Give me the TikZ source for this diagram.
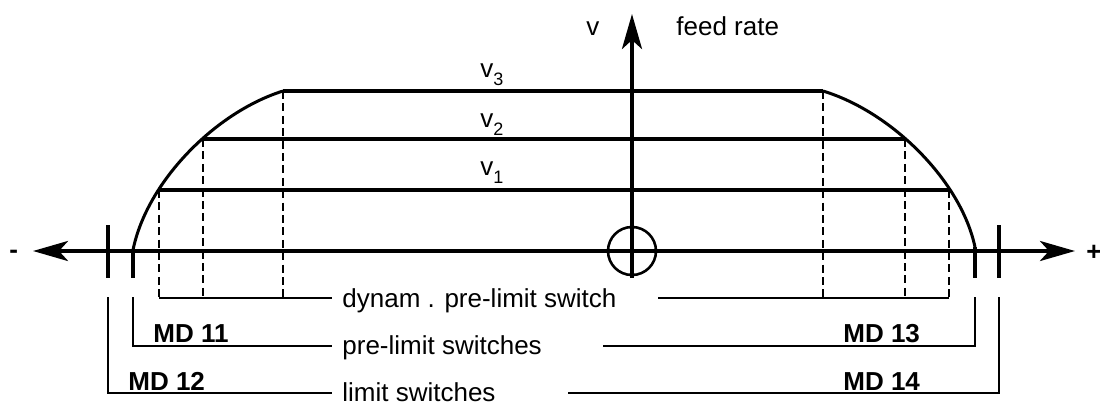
\documentclass[tikz,border=0pt]{standalone}
\usepackage{fontspec}
\setmainfont{Liberation Sans}
\usetikzlibrary{arrows.meta}
\newcommand\subidx[1]{\raisebox{-4pt}{\fontsize{9pt}{10pt}\selectfont #1}}
\begin{document}
\begin{tikzpicture}[x=0.5pt,y=-0.5pt,
  >={Stealth[length=17.5pt,width=10pt,inset=4.5pt]},
  axis/.style={line width=2pt},
  level/.style={line width=2pt},
  curve/.style={line width=1.5pt},
  dim/.style={line width=0.7pt},
  guide/.style={line width=0.7pt, dash pattern=on 4pt off 2.2pt},
  tickbar/.style={line width=2.4pt},
  lbl/.style={font=\fontsize{13pt}{15pt}\selectfont, inner sep=0pt, anchor=base west},
  md/.style={font=\fontsize{13pt}{15pt}\selectfont\bfseries, inner sep=0pt, anchor=base west}
]
\useasboundingbox (0,0) rectangle (1100,404);

% curve points
\coordinate (L0) at (133,250);
\coordinate (L1) at (159,190);
\coordinate (L2) at (203,139);
\coordinate (L3) at (283,91);
\coordinate (R0) at (975,247);
\coordinate (R1) at (949,190);
\coordinate (R2) at (905,139);
\coordinate (R3) at (823,91);

% guide feet
\coordinate (DL1) at (159,298);
\coordinate (DL2) at (203,298);
\coordinate (DL3) at (283,298);
\coordinate (DR1) at (949,298);
\coordinate (DR2) at (905,298);
\coordinate (DR3) at (823,298);

% axes
\coordinate (axL) at (33,251);
\coordinate (axR) at (1075,251);
\coordinate (axB) at (632,278);
\coordinate (axT) at (632,14);
\coordinate (O) at (632,251);

\draw[axis,<->] (axL) -- (axR);
\draw[axis,->] (axB) -- (axT);
\draw[line width=1.3pt] (O) circle[radius=24];

% velocity profile
\draw[curve] (L0) .. controls (147,181) and (216,112) .. (L3);
\draw[curve] (R0) .. controls (961,181) and (892,112) .. (R3);
\draw[level] (L3) -- (R3);
\draw[level] (L2) -- (R2);
\draw[level] (L1) -- (R1);

% dashed guides
\draw[guide] (L1) -- (DL1);
\draw[guide] (L2) -- (DL2);
\draw[guide] (L3) -- (DL3);
\draw[guide] (R1) -- (DR1);
\draw[guide] (R2) -- (DR2);
\draw[guide] (R3) -- (DR3);

% switch ticks
\coordinate (T12a) at (108,225); \coordinate (T12b) at (108,278);
\coordinate (T11a) at (133,250); \coordinate (T11b) at (133,278);
\coordinate (T13a) at (975,247); \coordinate (T13b) at (975,278);
\coordinate (T14a) at (999,225); \coordinate (T14b) at (999,278);
\draw[tickbar] (T12a) -- (T12b);
\draw[tickbar] (T11a) -- (T11b);
\draw[tickbar] (T13a) -- (T13b);
\draw[tickbar] (T14a) -- (T14b);

% dimension lines
\coordinate (dynL) at (332,298); \coordinate (dynR) at (658,298);
\draw[dim] (DL1) -- (dynL);
\draw[dim] (dynR) -- (DR1);

\coordinate (p1) at (133,297); \coordinate (p2) at (133,346); \coordinate (p3) at (332,346);
\coordinate (p4) at (603,346); \coordinate (p5) at (975,346); \coordinate (p6) at (975,297);
\draw[dim] (p1) -- (p2) -- (p3);
\draw[dim] (p4) -- (p5) -- (p6);

\coordinate (q1) at (108,297); \coordinate (q2) at (108,393); \coordinate (q3) at (332,393);
\coordinate (q4) at (568,393); \coordinate (q5) at (999,393); \coordinate (q6) at (999,297);
\draw[dim] (q1) -- (q2) -- (q3);
\draw[dim] (q4) -- (q5) -- (q6);

% labels
\node[lbl] (vax) at (586,35) {v};
\node[lbl] (feed) at (676,35) {feed rate};
\node[lbl] (v3) at (480,77) {v\subidx{3}};
\node[lbl] (v2) at (480,127) {v\subidx{2}};
\node[lbl] (v1) at (480,175) {v\subidx{1}};
\node[lbl,font=\fontsize{13pt}{15pt}\selectfont\bfseries] (minus) at (9,258) {-};
\node[lbl,font=\fontsize{13pt}{15pt}\selectfont\bfseries] (plus) at (1086,260) {+};

\node[lbl] (dyn) at (342,307) {dynam . pre-limit switch};
\node[lbl] (pre) at (342,354) {pre-limit switches};
\node[lbl] (lim) at (342,401) {limit switches};

\node[md] (md11) at (153,342) {MD 11};
\node[md] (md12) at (128,390) {MD 12};
\node[md] (md13) at (843,342) {MD 13};
\node[md] (md14) at (843,390) {MD 14};
\end{tikzpicture}
\end{document}
